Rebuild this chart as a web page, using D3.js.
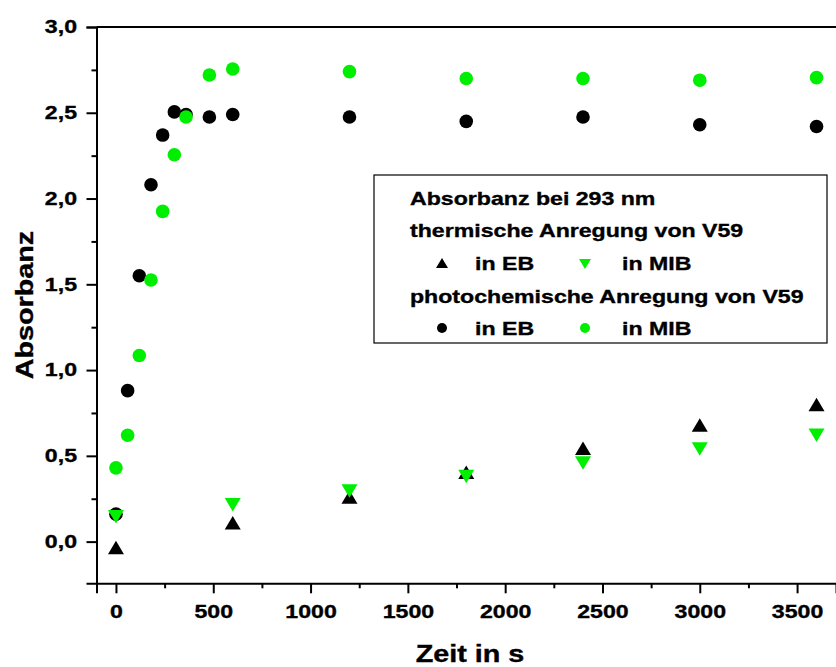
<!DOCTYPE html>
<html>
<head>
<meta charset="utf-8">
<script src="https://cdn.jsdelivr.net/npm/d3@7"></script>
<style>
  body { margin: 0; background: #fff; }
  text { font-family: Arial, "Liberation Sans", sans-serif; font-weight: bold; fill: #000; stroke: #000; stroke-width: 0.35; }
</style>
</head>
<body>
<div id="main"></div>
<script>
/* Size */
const width = 836, height = 667;

/* Data */
const timePhoto = [0, 60, 120, 180, 240, 300, 360, 480, 600, 1200, 1800, 2400, 3000, 3600];
const photoEB  = [0.16, 0.88, 1.55, 2.08, 2.37, 2.505, 2.49, 2.475, 2.49, 2.475, 2.45, 2.475, 2.43, 2.42];
const photoMIB = [0.43, 0.62, 1.085, 1.525, 1.925, 2.255, 2.475, 2.72, 2.755, 2.74, 2.70, 2.70, 2.69, 2.705];
const timeTherm = [0, 600, 1200, 1800, 2400, 3000, 3600];
const thermEB  = [-0.035, 0.11, 0.26, 0.405, 0.545, 0.68, 0.80];
const thermMIB = [0.145, 0.215, 0.295, 0.38, 0.458, 0.54, 0.62];

const xTicks = [0, 500, 1000, 1500, 2000, 2500, 3000, 3500];
const xMinor = [250, 750, 1250, 1750, 2250, 2750, 3250];
const yTicks = [0, 0.5, 1.0, 1.5, 2.0, 2.5, 3.0];
const yMinor = [0.25, 0.75, 1.25, 1.75, 2.25, 2.75];

const black = "#000000", green = "#00ee00";
const sx = 1.25; // horizontal stretch of the lettering

/* Scales */
const x = d3.scaleLinear().domain([-100, 3700]).range([96.5, 836]);
const y = d3.scaleLinear().domain([-0.243, 3.0]).range([583.3, 27]);

const svg = d3.select("#main").append("svg")
  .attr("width", width).attr("height", height);

const fmt = d => d3.format(".1f")(d).replace(".", ",");

/* frame top line */
svg.append("line")
  .attr("x1", x(-100)).attr("x2", x(3700))
  .attr("y1", y(3.0)).attr("y2", y(3.0))
  .attr("stroke", "#000").attr("stroke-width", 2);

/* y axis */
svg.append("g")
  .attr("transform", `translate(${x(-100)},0)`)
  .call(d3.axisLeft(y).tickValues(yTicks).tickFormat(fmt).tickSize(10).tickPadding(9))
  .selectAll(".tick text")
  .attr("x", -19.5 / sx).attr("transform", `scale(${sx},1)`);
svg.append("g")
  .attr("transform", `translate(${x(-100)},0)`)
  .call(d3.axisLeft(y).tickValues(yMinor).tickFormat("").tickSize(5))
  .select(".domain").remove();

/* x axis */
svg.append("g")
  .attr("transform", `translate(0,${y(-0.243)})`)
  .call(d3.axisBottom(x).tickValues(xTicks).tickFormat(d3.format("d")).tickSize(10).tickPadding(12))
  .selectAll(".tick text")
  .attr("transform", `scale(${sx},1)`);
svg.append("g")
  .attr("transform", `translate(0,${y(-0.243)})`)
  .call(d3.axisBottom(x).tickValues(xMinor).tickFormat("").tickSize(5))
  .select(".domain").remove();

svg.selectAll(".domain").attr("stroke-width", 2);
svg.selectAll(".tick line").attr("stroke-width", 2);
svg.selectAll(".tick text").attr("font-size", 18.5).attr("fill", "#000")
  .style("font-family", "Arial, 'Liberation Sans', sans-serif").style("font-weight", "bold");

/* axis titles */
svg.append("text")
  .attr("transform", `translate(470,662) scale(${sx},1)`)
  .attr("text-anchor", "middle").attr("font-size", 23)
  .text("Zeit in s");
svg.append("text")
  .attr("transform", `translate(33,305) rotate(-90) scale(${sx},1)`)
  .attr("text-anchor", "middle").attr("font-size", 23)
  .text("Absorbanz");

/* symbols */
function triPath(w, h, up) {
  return up
    ? `M0,${-h/2}L${w/2},${h/2}L${-w/2},${h/2}Z`
    : `M0,${h/2}L${w/2},${-h/2}L${-w/2},${-h/2}Z`;
}

const plot = svg.append("g");

plot.selectAll(".peb").data(timePhoto).enter().append("circle")
  .attr("cx", d => x(d)).attr("cy", (d, i) => y(photoEB[i])).attr("r", 6.8).attr("fill", black);
plot.selectAll(".pmib").data(timePhoto).enter().append("circle")
  .attr("cx", d => x(d)).attr("cy", (d, i) => y(photoMIB[i])).attr("r", 6.8).attr("fill", green);
plot.selectAll(".teb").data(timeTherm).enter().append("path")
  .attr("d", triPath(16, 13.5, true))
  .attr("transform", (d, i) => `translate(${x(d)},${y(thermEB[i])})`).attr("fill", black);
plot.selectAll(".tmib").data(timeTherm).enter().append("path")
  .attr("d", triPath(16, 13.5, false))
  .attr("transform", (d, i) => `translate(${x(d)},${y(thermMIB[i])})`).attr("fill", green);

/* legend */
const lg = svg.append("g");
lg.append("rect")
  .attr("x", 374).attr("y", 175).attr("width", 453).attr("height", 168)
  .attr("fill", "#fff").attr("stroke", "#000").attr("stroke-width", 1.2);
const lines = [
  ["Absorbanz bei 293 nm", 410, 205],
  ["thermische Anregung von V59", 410, 237],
  ["in EB", 475, 270],
  ["in MIB", 622, 270],
  ["photochemische Anregung von V59", 410, 303],
  ["in EB", 475, 335],
  ["in MIB", 622, 335]
];
lg.selectAll(".lt").data(lines).enter().append("text")
  .attr("transform", d => `translate(${d[1]},${d[2]}) scale(${sx},1)`)
  .attr("font-size", 18.5).text(d => d[0]);
lg.append("path").attr("d", triPath(12, 10, true))
  .attr("transform", "translate(442,263)").attr("fill", black);
lg.append("path").attr("d", triPath(12, 10, false))
  .attr("transform", "translate(585,264)").attr("fill", green);
lg.append("circle").attr("cx", 442).attr("cy", 328).attr("r", 5).attr("fill", black);
lg.append("circle").attr("cx", 585).attr("cy", 328).attr("r", 5).attr("fill", green);
</script>
</body>
</html>
